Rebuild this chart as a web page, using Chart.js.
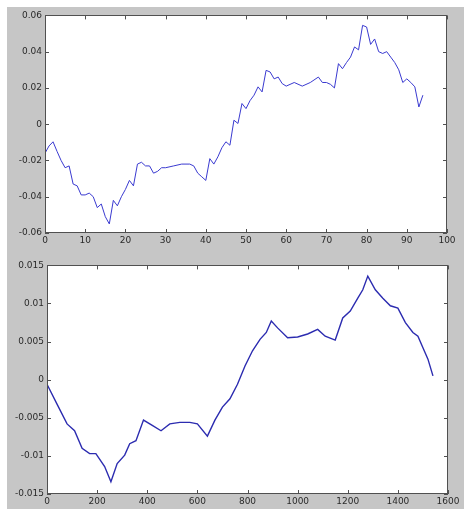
<!DOCTYPE html>
<html lang="en">
<head>
<meta charset="UTF-8" />
<title>Two random walks</title>
<script src="https://cdn.jsdelivr.net/npm/chart.js"></script>
<style>
  body { margin: 0; background: #fff; }
  .fig { position: absolute; left: 7px; top: 7px; width: 457px; height: 502px; background: #c6c6c6; }
  .panel { position: absolute; left: 0; width: 457px; }
</style>
</head>
<body>
<div class="fig">
  <div class="panel" style="top:0;height:250px"><canvas id="top-chart"></canvas></div>
  <div class="panel" style="top:250px;height:252px"><canvas id="bottom-chart"></canvas></div>
</div>
<script>
// top panel: walk over 0..94
const topX = [0, 1, 2, 3, 4, 5, 6, 7, 8, 9, 10, 11, 12, 13, 14, 15, 16, 17, 18, 19,
  20, 21, 22, 23, 24, 25, 26, 27, 28, 29, 30, 32, 34, 36, 37, 38, 39, 40, 41, 42,
  43, 44, 45, 46, 47, 48, 49, 50, 51, 52, 53, 54, 55, 56, 57, 58, 59, 60, 62, 64,
  66, 68, 69, 70, 71, 72, 73, 74, 75, 76, 77, 78, 79, 80, 81, 82, 83, 84, 85, 86,
  87, 88, 89, 90, 91, 92, 93, 94];
const topY = [-0.016, -0.012, -0.0097, -0.015, -0.020, -0.024, -0.023, -0.033, -0.034, -0.039,
  -0.039, -0.038, -0.040, -0.046, -0.044, -0.051, -0.055, -0.042, -0.045, -0.040,
  -0.036, -0.031, -0.034, -0.022, -0.021, -0.023, -0.023, -0.027, -0.026, -0.024,
  -0.024, -0.023, -0.022, -0.022, -0.023, -0.027, -0.029, -0.031, -0.019, -0.022,
  -0.018, -0.013, -0.0097, -0.0116, 0.0022, 0.0004, 0.0114, 0.0086, 0.013, 0.016,
  0.0206, 0.0178, 0.0297, 0.0288, 0.025, 0.026, 0.0224, 0.021, 0.023, 0.021,
  0.023, 0.026, 0.023, 0.023, 0.022, 0.020, 0.0334, 0.0306, 0.034, 0.037,
  0.0426, 0.041, 0.0545, 0.0536, 0.044, 0.047, 0.040, 0.039, 0.040, 0.037,
  0.034, 0.030, 0.023, 0.025, 0.023, 0.0206, 0.0095, 0.016];
const topXTicks = [0, 10, 20, 30, 40, 50, 60, 70, 80, 90, 100];
const topYTicks = [-0.06, -0.04, -0.02, 0, 0.02, 0.04, 0.06];

// bottom panel: walk over 0..1540
const bottomX = [0, 40, 80, 110, 140, 170, 195, 230, 255, 280, 310, 330, 355, 385, 420,
  455, 490, 530, 570, 600, 640, 670, 700, 730, 760, 790, 820, 850, 875, 895,
  920, 960, 1000, 1040, 1080, 1110, 1150, 1180, 1210, 1240, 1260, 1280, 1310, 1340,
  1370, 1400, 1430, 1460, 1480, 1500, 1520, 1540];
const bottomY = [-0.0006, -0.0032, -0.0058, -0.0067, -0.009, -0.0097, -0.0097, -0.0114, -0.0134,
  -0.011, -0.0099, -0.0084, -0.008, -0.0053, -0.006, -0.0067, -0.0058, -0.0056, -0.0056,
  -0.0058, -0.0074, -0.0053, -0.0036, -0.0025, -0.0006, 0.0018, 0.0038, 0.0053, 0.0062,
  0.0077, 0.0068, 0.0055, 0.0056, 0.006, 0.0066, 0.0057, 0.0052, 0.0081, 0.009,
  0.0107, 0.0118, 0.0136, 0.0118, 0.0107, 0.0097, 0.0094, 0.0075, 0.0062, 0.0057,
  0.0042, 0.0027, 0.0005];
const bottomXTicks = [0, 200, 400, 600, 800, 1000, 1200, 1400, 1600];
const bottomYTicks = [-0.015, -0.01, -0.005, 0, 0.005, 0.01, 0.015];

// white plot area, box and inward ticks on all four sides
const boxTicks = {
  id: 'boxTicks',
  beforeDatasetsDraw(chart) {
    const { ctx, chartArea: a } = chart;
    ctx.save();
    ctx.fillStyle = '#ffffff';
    ctx.fillRect(a.left, a.top, a.width, a.height);
    ctx.restore();
  },
  afterDatasetsDraw(chart) {
    const { ctx, chartArea: a, scales: { x, y } } = chart;
    ctx.save();
    ctx.strokeStyle = '#505050';
    ctx.lineWidth = 1;
    ctx.beginPath();
    x.ticks.forEach(t => {
      const px = Math.round(x.getPixelForValue(t.value)) + 0.5;
      ctx.moveTo(px, a.bottom); ctx.lineTo(px, a.bottom - 4);
      ctx.moveTo(px, a.top); ctx.lineTo(px, a.top + 4);
    });
    y.ticks.forEach(t => {
      const py = Math.round(y.getPixelForValue(t.value)) + 0.5;
      ctx.moveTo(a.left, py); ctx.lineTo(a.left + 4, py);
      ctx.moveTo(a.right, py); ctx.lineTo(a.right - 4, py);
    });
    ctx.stroke();
    ctx.strokeRect(Math.round(a.left) + 0.5, Math.round(a.top) + 0.5,
      Math.round(a.width) - 1, Math.round(a.height) - 1);
    ctx.restore();
  }
};

function matlabLabel(v) {
  return String(Number(v.toFixed(4)));
}

function makeChart(id, xs, ys, xTicks, yTicks, lineColor, lineWidth, box) {
  const points = xs.map((x, i) => ({ x: x, y: ys[i] }));
  return new Chart(document.getElementById(id), {
    type: 'line',
    data: {
      datasets: [{
        data: points,
        borderColor: lineColor,
        borderWidth: lineWidth,
        pointRadius: 0,
        tension: 0,
        fill: false
      }]
    },
    options: {
      responsive: true,
      maintainAspectRatio: false,
      animation: false,
      layout: { padding: { top: box.top, right: box.right, left: 0, bottom: 0 } },
      plugins: { legend: { display: false }, tooltip: { enabled: false } },
      scales: {
        x: {
          type: 'linear',
          min: xTicks[0],
          max: xTicks[xTicks.length - 1],
          afterBuildTicks: s => { s.ticks = xTicks.map(v => ({ value: v })); },
          afterFit: s => { s.height = box.xh; },
          grid: { drawOnChartArea: false, drawTicks: false },
          border: { display: false },
          ticks: {
            padding: 2,
            maxRotation: 0,
            autoSkip: false,
            color: '#2a2a2a',
            font: { family: 'DejaVu Sans', size: 9 },
            callback: v => matlabLabel(v)
          }
        },
        y: {
          type: 'linear',
          min: yTicks[0],
          max: yTicks[yTicks.length - 1],
          afterBuildTicks: s => { s.ticks = yTicks.map(v => ({ value: v })); },
          afterFit: s => { s.width = box.yw; },
          grid: { drawOnChartArea: false, drawTicks: false },
          border: { display: false },
          ticks: {
            padding: 3,
            autoSkip: false,
            color: '#2a2a2a',
            font: { family: 'DejaVu Sans', size: 9 },
            callback: v => matlabLabel(v)
          }
        }
      }
    },
    plugins: [boxTicks]
  });
}

makeChart('top-chart', topX, topY, topXTicks, topYTicks, '#3a3ad0', 1,
  { top: 8, right: 17, yw: 38, xh: 24 });
makeChart('bottom-chart', bottomX, bottomY, bottomXTicks, bottomYTicks, '#2c2cb0', 1.4,
  { top: 7, right: 16, yw: 40, xh: 15 });
</script>
</body>
</html>
